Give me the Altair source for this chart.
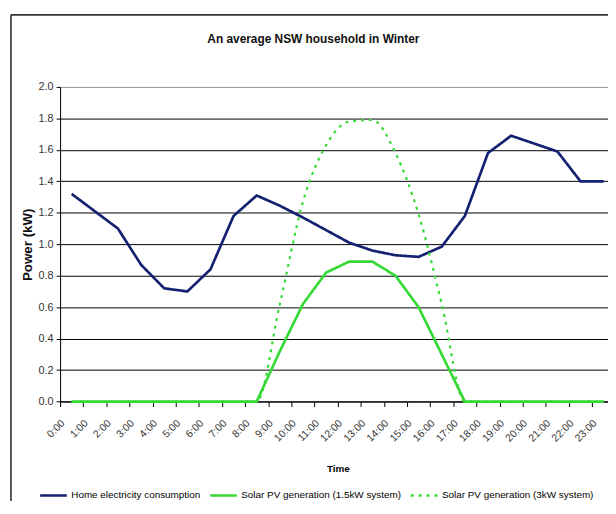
import altair as alt
import pandas as pd

# ---- data ----
hours = ["0:00", "1:00", "2:00", "3:00", "4:00", "5:00", "6:00", "7:00", "8:00", "9:00",
         "10:00", "11:00", "12:00", "13:00", "14:00", "15:00", "16:00", "17:00", "18:00",
         "19:00", "20:00", "21:00", "22:00", "23:00"]
home = [1.32, 1.21, 1.10, 0.87, 0.72, 0.70, 0.84, 1.18, 1.31, 1.245, 1.17, 1.09,
        1.01, 0.96, 0.93, 0.92, 0.985, 1.18, 1.58, 1.69, 1.64, 1.59, 1.40, 1.40]
pv_15 = [0, 0, 0, 0, 0, 0, 0, 0, 0, 0.32, 0.62, 0.82,
         0.89, 0.89, 0.80, 0.60, 0.30, 0, 0, 0, 0, 0, 0, 0]
pv_3 = [0, 0, 0, 0, 0, 0, 0, 0, 0, 0.62, 1.27, 1.63,
        1.78, 1.79, 1.58, 1.19, 0.62, 0, 0, 0, 0, 0, 0, 0]
series_names = ["Home electricity consumption",
                "Solar PV generation (1.5kW system)",
                "Solar PV generation (3kW system)"]
series_colors = ["#142070", "#36d936", "#36d936"]
series_dash = [[1, 0], [1, 0], [3, 5]]
y_ticks = [0.0, 0.2, 0.4, 0.6, 0.8, 1.0, 1.2, 1.4, 1.6, 1.8, 2.0]

rows = []
for name, vals in zip(series_names, [home, pv_15, pv_3]):
    for i, v in enumerate(vals):
        rows.append({"idx": i, "hour": hours[i], "series": name, "kw": v})
df = pd.DataFrame(rows)

FONT = "Liberation Sans, Arial, sans-serif"
STEP = 23.4
PAD_L, PAD_T = 52.7, 77
TOTAL_W, TOTAL_H = 607, 493
PLOT_W = TOTAL_W - PAD_L
PLOT_H = 318.3
XMAX = PLOT_W / STEP - 0.5

label_expr = "[" + ",".join("'%s'" % h for h in hours) + "][datum.value]"

x_enc = alt.X(
    "idx:Q",
    scale=alt.Scale(domain=[-0.5, XMAX], nice=False, zero=False),
    axis=alt.Axis(
        values=list(range(len(hours))), labelExpr=label_expr,
        tickOffset=-STEP / 2, labelOffset=STEP / 2 - 9,
        labelAngle=-45, labelAlign="right", labelBaseline="middle",
        labelPadding=15, tickSize=5, tickColor="#000", tickWidth=1,
        domainColor="#000", domainWidth=1, grid=False,
        labelFontSize=10.5, labelColor="#333", labelFont=FONT,
        labelFlush=False, labelOverlap=False, labelBound=False,
        title="Time", titleX=281, titleY=68, titleFontSize=10,
        titleFontWeight="bold", titleFont=FONT, titleBaseline="middle",
        titleAlign="center", titleColor="#000",
    ),
)
y_enc = alt.Y(
    "kw:Q",
    scale=alt.Scale(domain=[0, 2], nice=False, zero=True),
    axis=alt.Axis(
        values=y_ticks, format=".1f", tickSize=4, tickColor="#000",
        labelPadding=3, labelFontSize=11, labelColor="#333", labelFont=FONT,
        domainColor="#000", grid=True, gridWidth=1, gridOpacity=1,
        gridColor={"condition": {"test": "datum.value >= 1.99", "value": "#9a9a9a"},
                   "value": "#000000"},
        title="Power (kW)", titleX=-32.7, titleY=PLOT_H / 2, titleAngle=-90,
        titleBaseline="middle", titleAlign="center", titleFontSize=13.5,
        titleFontWeight="bold", titleFont=FONT, titleColor="#111",
    ),
)
legend = alt.Legend(
    title=None, orient="none", legendX=-21.7, legendY=398, direction="horizontal",
    symbolType="stroke", symbolSize=729, symbolStrokeWidth=2.7,
    labelFontSize=10, labelFont=FONT, labelColor="#000", labelOffset=3,
    columnPadding=4, padding=0, labelLimit=0,
)
color_enc = alt.Color("series:N", scale=alt.Scale(domain=series_names, range=series_colors),
                      legend=legend)
dash_enc = alt.StrokeDash("series:N", scale=alt.Scale(domain=series_names, range=series_dash),
                          legend=legend)

base = alt.Chart(df).encode(x=x_enc, y=y_enc, color=color_enc, strokeDash=dash_enc,
                            order=alt.Order("idx:Q"))

solid = base.transform_filter(
    alt.datum.series != series_names[2]
).mark_line(strokeWidth=2.7)
dotted = base.transform_filter(
    alt.datum.series == series_names[2]
).mark_line(strokeWidth=2.2, interpolate="monotone")

frame_src = alt.Chart(pd.DataFrame({"k": [0]}))
frame_left = frame_src.mark_rule(color="#222", strokeWidth=1.5).encode(
    x=alt.value(-PAD_L + 3), y=alt.value(-PAD_T + 4), y2=alt.value(TOTAL_H))
frame_top = frame_src.mark_rule(color="#333", strokeWidth=1.8).encode(
    x=alt.value(-PAD_L + 3), x2=alt.value(PLOT_W + 10), y=alt.value(-PAD_T + 4))

chart = alt.layer(frame_left, frame_top, solid, dotted).properties(
    width=PLOT_W, height=PLOT_H,
    autosize=alt.AutoSizeParams(type="none"),
    padding={"left": PAD_L, "top": PAD_T, "right": 0, "bottom": TOTAL_H - PAD_T - PLOT_H},
    title=alt.Title("An average NSW household in Winter", fontSize=12, fontWeight="bold",
                    font=FONT, color="#111", anchor="middle", frame="group", dx=-20.9,
                    offset=0, dy=32),
).configure_view(stroke=None).configure(background="white")

chart.save("out.html", embed_options={"renderer": "svg", "actions": False})
